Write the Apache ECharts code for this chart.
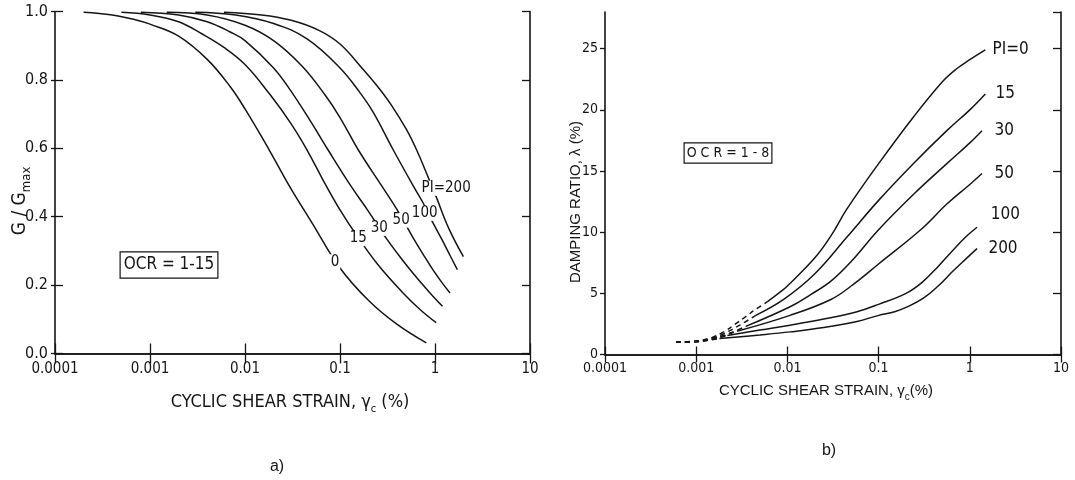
<!DOCTYPE html>
<html>
<head>
<meta charset="utf-8">
<script src="https://cdn.jsdelivr.net/npm/echarts@6/dist/echarts.min.js"></script>
<style>
  html, body { margin: 0; padding: 0; background: #fff; }
  #chart { width: 1075px; height: 480px; }
</style>
</head>
<body>
<div id="chart"></div>
<script>
// ---- a) Normalised shear modulus G/Gmax vs cyclic shear strain (%) ----
const gPI0   = [[0.0002,0.998],[0.0004,0.99],[0.0007,0.976],[0.001,0.963],[0.002,0.928],[0.004,0.86],[0.007,0.78],[0.01,0.715],[0.018,0.595],[0.03,0.485],[0.05,0.385],[0.1,0.25],[0.2,0.155],[0.4,0.085],[0.81,0.031]];
const gPI15  = [[0.0005,0.998],[0.001,0.99],[0.002,0.97],[0.0035,0.935],[0.006,0.895],[0.01,0.845],[0.018,0.76],[0.03,0.675],[0.045,0.595],[0.067,0.505],[0.1,0.42],[0.15,0.345],[0.25,0.26],[0.45,0.18],[0.7,0.128],[1.03,0.09]];
const gPI30  = [[0.0008,0.998],[0.002,0.99],[0.004,0.97],[0.007,0.94],[0.01,0.915],[0.02,0.835],[0.03,0.77],[0.05,0.675],[0.075,0.595],[0.13,0.49],[0.2,0.415],[0.31,0.335],[0.45,0.275],[0.64,0.222],[0.9,0.175],[1.2,0.138]];
const gPI50  = [[0.0015,0.998],[0.004,0.99],[0.01,0.96],[0.02,0.915],[0.04,0.84],[0.07,0.755],[0.1,0.69],[0.156,0.595],[0.275,0.49],[0.4,0.42],[0.57,0.345],[0.75,0.29],[0.96,0.243],[1.2,0.205],[1.44,0.177]];
const gPI100 = [[0.003,0.998],[0.008,0.99],[0.02,0.965],[0.045,0.92],[0.1,0.835],[0.16,0.765],[0.224,0.705],[0.364,0.595],[0.59,0.49],[0.75,0.44],[0.92,0.39],[1.2,0.33],[1.45,0.285],[1.72,0.245]];
const gPI200 = [[0.006,0.998],[0.015,0.99],[0.03,0.975],[0.06,0.945],[0.1,0.905],[0.17,0.835],[0.25,0.78],[0.35,0.725],[0.5,0.655],[0.641,0.595],[0.82,0.525],[1.04,0.455],[1.4,0.365],[1.99,0.283]];
const gCurveNames = ['0', '15', '30', '50', '100', 'PI=200'];
const gLabelAnchors = [[0.0886,0.268],[0.156,0.336],[0.259,0.366],[0.44,0.39],[0.78,0.41],[1.31,0.483]];

// ---- b) Damping ratio (%) vs cyclic shear strain (%); dashed = extrapolated part ----
const dPI0Dash   = [[0.0006,1.0],[0.001,1.1],[0.0015,1.4],[0.002,1.85],[0.0027,2.5],[0.0035,3.1],[0.0045,3.7],[0.006,4.3]];
const dPI0       = [[0.006,4.3],[0.0083,5.1],[0.01,5.6],[0.02,7.9],[0.03,9.7],[0.045,11.9],[0.1,15.6],[0.24,19.4],[0.5,22.3],[0.7,23.3],[1.0,24.1],[1.48,24.9]];
const dPI15Dash  = [[0.0006,1.0],[0.001,1.1],[0.0015,1.35],[0.002,1.7],[0.003,2.4],[0.0045,3.2]];
const dPI15      = [[0.0045,3.2],[0.0091,4.5],[0.02,6.6],[0.045,9.6],[0.1,12.6],[0.24,15.6],[0.56,18.3],[1.0,20.0],[1.48,21.3]];
const dPI30Dash  = [[0.0006,1.0],[0.001,1.08],[0.0015,1.3],[0.002,1.55],[0.0035,2.3]];
const dPI30      = [[0.0035,2.3],[0.0107,3.9],[0.018,4.9],[0.03,6.0],[0.05,7.6],[0.1,10.2],[0.25,13.2],[0.56,15.6],[1.0,17.3],[1.36,18.3]];
const dPI50Dash  = [[0.0006,1.0],[0.001,1.06],[0.0015,1.25],[0.0028,1.9]];
const dPI50      = [[0.0028,1.9],[0.0107,3.2],[0.03,4.5],[0.05,5.6],[0.1,7.4],[0.3,10.3],[0.56,12.3],[1.0,13.9],[1.36,14.8]];
const dPI100Dash = [[0.0006,1.0],[0.001,1.05],[0.0015,1.25],[0.0022,1.55]];
const dPI100     = [[0.0022,1.55],[0.005,2.0],[0.0107,2.4],[0.025,2.9],[0.058,3.5],[0.1,4.1],[0.2,5.0],[0.3,5.9],[0.45,7.2],[0.65,8.5],[0.9,9.6],[1.2,10.4]];
const dPI200Dash = [[0.0006,1.0],[0.001,1.05],[0.0018,1.3]];
const dPI200     = [[0.0018,1.3],[0.005,1.6],[0.0107,1.85],[0.025,2.2],[0.058,2.7],[0.1,3.2],[0.15,3.5],[0.2,3.85],[0.31,4.6],[0.45,5.6],[0.65,6.8],[0.9,7.8],[1.2,8.66]];
const dCurveNames = ['PI=0', '15', '30', '50', '100', '200'];
const dLabelAnchors = [[1.77,24.9],[1.91,21.3],[1.87,18.3],[1.87,14.8],[1.70,11.4],[1.60,8.66]];

const INK = '#151515';
const NARROW = "'DejaVu Sans Condensed', 'Liberation Sans Narrow', sans-serif";
const SANS = "'Liberation Sans', Arial, sans-serif";

const strainLabel = v => String(+Number(v).toPrecision(6));

function curve(data, gi, dashed, marks) {
  const s = {
    type: 'line', data: data, xAxisIndex: gi * 2, yAxisIndex: gi * 3,
    smooth: 0.4, symbol: 'none', silent: true, animation: false,
    lineStyle: { color: INK, width: 1.5, type: dashed ? [5, 4] : 'solid' }
  };
  if (marks) s.markPoint = marks;
  return s;
}

function onCurveLabel(text, anchor) {
  return {
    symbol: 'rect', symbolSize: 1, z: 10, silent: true, animation: false,
    itemStyle: { color: 'rgba(0,0,0,0)' },
    label: {
      show: true, position: 'inside', formatter: text, color: INK,
      fontFamily: NARROW, fontSize: 15, backgroundColor: '#fff', padding: [0, 1]
    },
    data: [{ coord: anchor }]
  };
}

function endLabel(text, anchor) {
  return {
    symbol: 'rect', symbolSize: 1, z: 10, silent: true, animation: false,
    itemStyle: { color: 'rgba(0,0,0,0)' },
    label: {
      show: true, position: 'inside', align: 'left', formatter: text, color: INK,
      fontFamily: NARROW, fontSize: 17
    },
    data: [{ coord: anchor }]
  };
}

function strainAxis(gi, pos, showLabels, tickLen, labelSize, margin) {
  return {
    gridIndex: gi, type: 'log', logBase: 10, min: 0.0001, max: 10, position: pos,
    axisLine: { show: true, lineStyle: { color: INK, width: 1.6 } },
    axisTick: { show: true, inside: true, length: tickLen, lineStyle: { color: INK, width: 1.3 } },
    minorTick: { show: false }, splitLine: { show: false },
    axisLabel: { show: showLabels, formatter: strainLabel, color: INK, fontFamily: NARROW, fontSize: labelSize, margin: margin }
  };
}

function valueAxis(gi, pos, max, interval, opts) {
  return {
    gridIndex: gi, type: 'value', min: 0, max: max, interval: interval, position: pos,
    axisLine: { show: opts.line !== false, lineStyle: { color: INK, width: 1.6 } },
    axisTick: { show: true, inside: opts.inside, length: opts.tick, lineStyle: { color: INK, width: 1.3 } },
    splitLine: { show: false },
    axisLabel: { show: !!opts.fmt, formatter: opts.fmt, color: INK, fontFamily: NARROW,
      fontSize: opts.size || 14, margin: opts.margin || 5, showMaxLabel: max === 1 }
  };
}

const gSeries = [gPI0, gPI15, gPI30, gPI50, gPI100, gPI200].map((d, i) =>
  curve(d, 0, false, onCurveLabel(gCurveNames[i], gLabelAnchors[i])));

const dDashed = [dPI0Dash, dPI15Dash, dPI30Dash, dPI50Dash, dPI100Dash, dPI200Dash];
const dSolid = [dPI0, dPI15, dPI30, dPI50, dPI100, dPI200];
const dSeries = [];
dSolid.forEach((d, i) => {
  dSeries.push(curve(dDashed[i], 1, true));
  dSeries.push(curve(d, 1, false, endLabel(dCurveNames[i], dLabelAnchors[i])));
});

const chart = echarts.init(document.getElementById('chart'), null, { renderer: 'canvas' });
chart.setOption({
  animation: false,
  backgroundColor: '#fff',
  grid: [
    { left: 55, top: 11.5, width: 475, height: 342 },
    { left: 605, top: 12, width: 456, height: 342.5 }
  ],
  xAxis: [
    strainAxis(0, 'bottom', true, 10, 15, 8),
    strainAxis(0, 'top', false, 10, 15, 8),
    strainAxis(1, 'bottom', true, 8, 14, 7),
    strainAxis(1, 'top', false, 8, 14, 7)
  ],
  yAxis: [
    // a) left axis: labels with short outer ticks, plus inner ticks on the same line
    valueAxis(0, 'left', 1, 0.2, { inside: false, tick: 4, fmt: v => v.toFixed(1), size: 16, margin: 7 }),
    valueAxis(0, 'right', 1, 0.2, { inside: true, tick: 8 }),
    valueAxis(0, 'left', 1, 0.2, { inside: true, tick: 8, line: false }),
    // b)
    valueAxis(1, 'left', 28, 5, { inside: false, tick: 5, fmt: v => String(v), size: 14, margin: 7 }),
    valueAxis(1, 'right', 28, 5, { inside: true, tick: 8 })
  ],
  series: gSeries.concat(dSeries),
  graphic: [
    { type: 'text', x: 20, y: 201, rotation: Math.PI / 2, silent: true,
      style: { text: 'G / G{sub|max}', align: 'center', verticalAlign: 'middle', fill: INK,
        font: '19px ' + NARROW,
        rich: { sub: { fontFamily: NARROW, fontSize: 13, fill: INK, verticalAlign: 'bottom', lineHeight: 26 } } } },
    { type: 'text', x: 290, y: 402, silent: true,
      style: { text: 'CYCLIC SHEAR STRAIN, \u03B3{sub|c} (%)', align: 'center', verticalAlign: 'middle', fill: INK,
        font: '18px ' + NARROW,
        rich: { sub: { fontFamily: NARROW, fontSize: 11, fill: INK, verticalAlign: 'bottom', lineHeight: 26 } } } },
    { type: 'text', x: 169, y: 265, silent: true,
      style: { text: 'OCR = 1-15', align: 'center', verticalAlign: 'middle', fill: INK,
        font: '17px ' + NARROW, borderColor: INK, borderWidth: 1.2, padding: [5, 3, 3, 3], backgroundColor: '#fff' } },
    { type: 'text', x: 576, y: 202, rotation: Math.PI / 2, silent: true,
      style: { text: 'DAMPING RATIO, \u03BB (%)', align: 'center', verticalAlign: 'middle', fill: INK,
        font: '15px ' + SANS } },
    { type: 'text', x: 826, y: 391, silent: true,
      style: { text: 'CYCLIC SHEAR STRAIN, \u03B3{sub|c}(%)', align: 'center', verticalAlign: 'middle', fill: INK,
        font: '15px ' + SANS,
        rich: { sub: { fontFamily: SANS, fontSize: 10, fill: INK, verticalAlign: 'bottom', lineHeight: 22 } } } },
    { type: 'text', x: 728, y: 153, silent: true,
      style: { text: 'O C R = 1 - 8', align: 'center', verticalAlign: 'middle', fill: INK,
        font: '14px ' + NARROW, borderColor: INK, borderWidth: 1.2, padding: [3, 2, 2, 2], backgroundColor: '#fff' } },
    { type: 'text', x: 277, y: 467, silent: true,
      style: { text: 'a)', align: 'center', verticalAlign: 'middle', fill: INK, font: '16px ' + SANS } },
    { type: 'text', x: 829, y: 451, silent: true,
      style: { text: 'b)', align: 'center', verticalAlign: 'middle', fill: INK, font: '16px ' + SANS } }
  ]
});
</script>
</body>
</html>
